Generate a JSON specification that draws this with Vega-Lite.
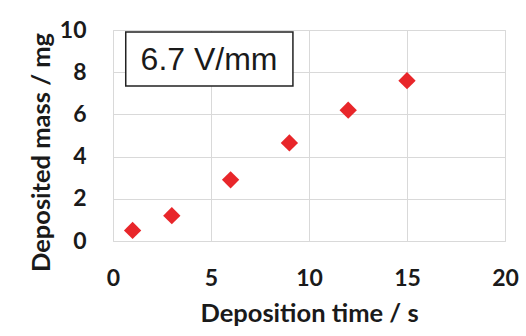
{
  "$schema": "https://vega.github.io/schema/vega-lite/v6.json",
  "autosize": "none",
  "width": 392,
  "height": 211,
  "padding": {"left": 113, "top": 30, "right": 21, "bottom": 95},
  "background": "white",
  "config": {
    "view": {"stroke": "#d9d9d9", "strokeWidth": 1},
    "axis": {
      "labelFont": "Lato", "labelFontWeight": "bold", "labelFontSize": 23, "labelColor": "#1a1a1a",
      "titleFont": "Lato", "titleFontWeight": "bold", "titleFontSize": 25.5, "titleColor": "#1a1a1a",
      "gridColor": "#d9d9d9", "gridWidth": 1, "domain": false, "ticks": false
    }
  },
  "datasets": {
    "points": [
      {"time": 1, "mass": 0.5},
      {"time": 3, "mass": 1.2},
      {"time": 6, "mass": 2.9},
      {"time": 9, "mass": 4.65},
      {"time": 12, "mass": 6.2},
      {"time": 15, "mass": 7.6}
    ],
    "label": [
      {"x1": 0.65, "x2": 9.18, "y1": 7.35, "y2": 9.9, "xc": 4.9, "yc": 8.6, "text": "6.7 V/mm"}
    ]
  },
  "layer": [
    {
      "data": {"name": "points"},
      "mark": {"type": "point", "shape": "diamond", "filled": true, "size": 300, "color": "#e8262a", "opacity": 1},
      "encoding": {
        "x": {"field": "time", "type": "quantitative", "title": "Deposition time / s",
              "scale": {"domain": [0, 20], "nice": false},
              "axis": {"values": [0, 5, 10, 15, 20], "labelPadding": 26, "titlePadding": 11, "labelFlush": false}},
        "y": {"field": "mass", "type": "quantitative", "title": "Deposited mass / mg",
              "scale": {"domain": [0, 10], "nice": false},
              "axis": {"values": [0, 2, 4, 6, 8, 10], "labelPadding": 27, "titlePadding": 5, "labelFlush": false, "titleY": 122}}
      }
    },
    {
      "data": {"name": "label"},
      "mark": {"type": "rect", "fill": "white", "stroke": "#222222", "strokeWidth": 1.5},
      "encoding": {
        "x": {"field": "x1", "type": "quantitative"},
        "x2": {"field": "x2"},
        "y": {"field": "y1", "type": "quantitative"},
        "y2": {"field": "y2"}
      }
    },
    {
      "data": {"name": "label"},
      "mark": {"type": "text", "font": "Liberation Sans", "fontSize": 32, "color": "#1a1a1a", "align": "center", "baseline": "middle"},
      "encoding": {
        "x": {"field": "xc", "type": "quantitative"},
        "y": {"field": "yc", "type": "quantitative"},
        "text": {"field": "text"}
      }
    }
  ]
}
